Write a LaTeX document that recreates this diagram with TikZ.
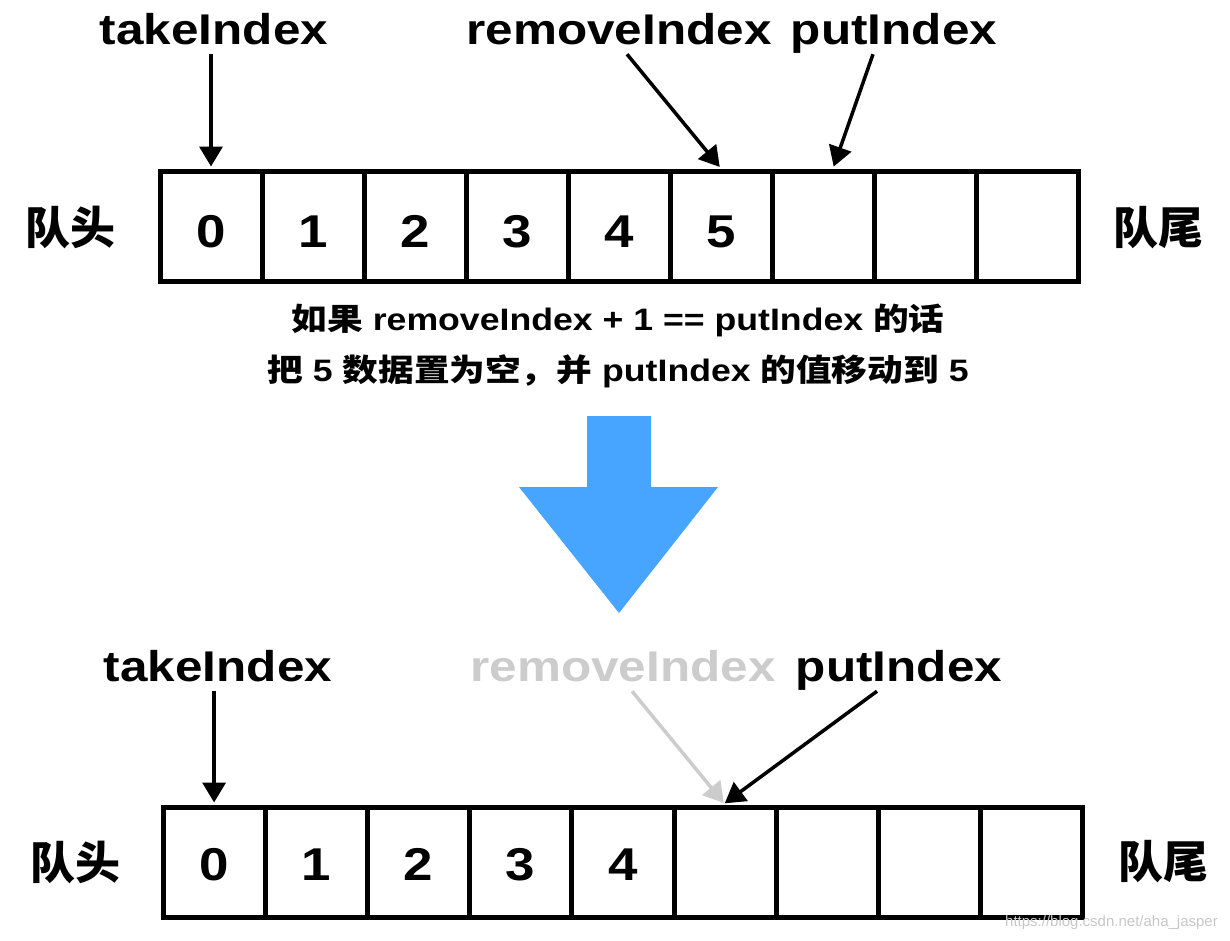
\documentclass[tikz,border=0pt]{standalone}
\usepackage{fontspec}
\setmainfont{Liberation Sans}
\newfontfamily\lat[FakeStretch=1.15]{Liberation Sans}
\newfontfamily\cjk{Noto Sans CJK SC}
\newfontfamily\cjkwide[FakeStretch=1.15]{Noto Sans CJK SC}
\usetikzlibrary{arrows.meta}
\definecolor{arrowblue}{RGB}{72,165,255}
\definecolor{fadegray}{RGB}{204,204,204}
\begin{document}
\begin{tikzpicture}[x=1pt,y=-1pt,
  cellbox/.style={draw, line width=5pt, minimum width=102pt, minimum height=110pt, inner sep=0pt,
    font=\lat\bfseries\fontsize{46}{46}\selectfont, text height=42pt, text depth=0pt},
  idx/.style={inner sep=0pt, anchor=base, font=\lat\bfseries\fontsize{43}{43}\selectfont,
    text height=31pt, text depth=10pt},
  side/.style={inner sep=0pt, font=\cjk\bfseries\fontsize{45}{45}\selectfont},
  note/.style={inner sep=0pt, anchor=base, font=\lat\bfseries\fontsize{31}{31}\selectfont},
  ptr/.style={line width=3.5pt, shorten >=2pt, -{Triangle[width=23pt,length=20pt]}}]
\useasboundingbox (0,0) rectangle (1230,940);

% ---------- top array ----------
\foreach \i/\t in {0/0,1/1,2/2,3/3,4/4,5/5,6/{},7/{},8/{}}
  \node[cellbox] (t\i) at ({211+102*\i},226) {\t};
\node[side] (hq1) at (70,228) {队头};
\node[side] (tq1) at (1158,228) {队尾};

\node[idx] (tk1) at (214,44) {takeIndex};
\node[idx] (rm1) at (619,44) {removeIndex};
\node[idx] (pt1) at (894,44) {putIndex};

\draw[ptr] (t0.north |- tk1.south) -- (t0.north);
\draw[ptr] ([xshift=8pt]rm1.south) -- (t5.north);
\draw[ptr] ([xshift=-21pt]pt1.south) -- ([xshift=10pt]t6.north);

% ---------- explanation ----------
\node[note] (c1) at (618,330) {{\cjkwide\bfseries 如果} removeIndex + 1 == putIndex {\cjkwide\bfseries 的话}};
\node[note] (c2) at (618,381) {{\cjkwide\bfseries 把} 5 {\cjkwide\bfseries 数据置为空，并} putIndex {\cjkwide\bfseries 的值移动到} 5};

% ---------- big arrow ----------
\fill[arrowblue] (587,416) -- (651,416) -- (651,487) -- (718,487) -- (619,613)
  -- (519,487) -- (587,487) -- cycle;

% ---------- bottom array ----------
\foreach \i/\t in {0/0,1/1,2/2,3/3,4/4,5/{},6/{},7/{},8/{}}
  \node[cellbox, minimum width=102.2pt, text height=37pt] (b\i) at ({214.1+102.2*\i},862) {\t};
\node[side] (hq2) at (75,862) {队头};
\node[side] (tq2) at (1163,862) {队尾};

\node[idx] (tk2) at (218,681) {takeIndex};
\node[idx, text=fadegray] (rm2) at (623,681) {removeIndex};
\node[idx] (pt2) at (899,681) {putIndex};

\draw[ptr] (b0.north |- tk2.south) -- (b0.north);
\draw[ptr, draw=fadegray, fill=fadegray] ([xshift=9pt]rm2.south) -- (b5.north);
\draw[ptr] ([xshift=-22pt]pt2.south) -- ([xshift=-2pt]b5.north);

\node[inner sep=0pt, anchor=base east, font=\fontsize{15}{15}\selectfont, text=black!22] (wm)
  at (1218,926) {https://blog.csdn.net/aha\_jasper};
\end{tikzpicture}
\end{document}
